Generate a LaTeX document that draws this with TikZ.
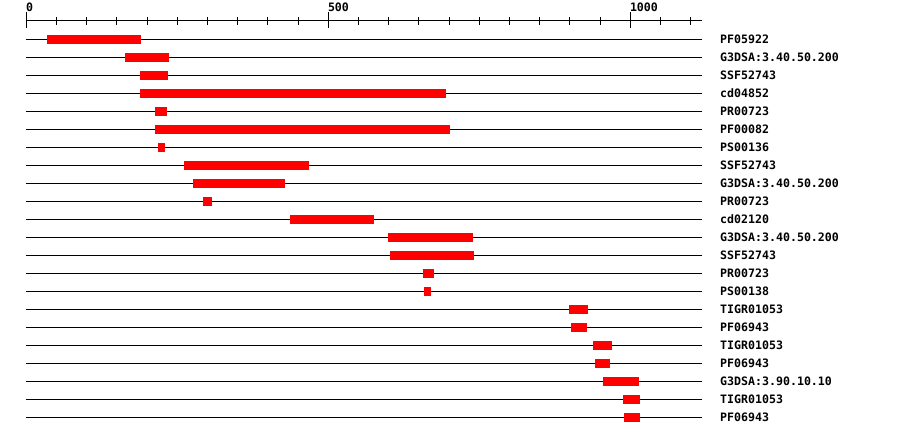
\documentclass[tikz,border=0pt]{standalone}
\usepackage{fontspec}
\newfontfamily\labfont{DejaVu Sans Mono}
\begin{document}
\begin{tikzpicture}[x=1pt,y=-1pt,
  lab/.style={font=\labfont\bfseries\fontsize{11.6}{12}\selectfont, anchor=base west, inner sep=0pt},
  track/.style={line width=1pt, black},
  bar/.style={fill=red, draw=none}]
\useasboundingbox (0,0) rectangle (900,436);
% ruler
\coordinate (ax0) at (26.3,21);
\coordinate (ax1) at (701.7,21);
\draw[track] (ax0) -- (ax1);
\foreach \u in {0,50,...,1100}{
  \pgfmathsetmacro{\xx}{26.3+0.604*\u}
  \draw[line width=1pt] (\xx,17) -- (\xx,25);
}
\foreach \u in {0,500,1000}{
  \pgfmathsetmacro{\xx}{26.3+0.604*\u}
  \draw[line width=1pt] (\xx,12) -- (\xx,28);
  \node[lab] (t\u) at (\xx-0.5,12) {\u};
}
% tracks
\foreach \i/\name/\a/\b in {
  1/PF05922/47/141,
  2/G3DSA:3.40.50.200/125/169,
  3/SSF52743/140/168,
  4/cd04852/140/446,
  5/PR00723/155/167,
  6/PF00082/155/450,
  7/PS00136/158/165,
  8/SSF52743/184/309,
  9/G3DSA:3.40.50.200/193/285,
  10/PR00723/203/212,
  11/cd02120/290/374,
  12/G3DSA:3.40.50.200/388/473,
  13/SSF52743/390/474,
  14/PR00723/423/434,
  15/PS00138/424/431,
  16/TIGR01053/569/588,
  17/PF06943/571/587,
  18/TIGR01053/593/612,
  19/PF06943/595/610,
  20/G3DSA:3.90.10.10/603/639,
  21/TIGR01053/623/640,
  22/PF06943/624/640}{
  \pgfmathsetmacro{\yy}{39.5+18*(\i-1)}
  \coordinate (s\i) at (26.3,\yy);
  \coordinate (e\i) at (701.7,\yy);
  \draw[track] (s\i) -- (e\i);
  \fill[bar] (\a,\yy-4.5) rectangle (\b,\yy+4.5);
  \node[lab] (n\i) at (720,\yy+4) {\name};
}
\end{tikzpicture}
\end{document}
